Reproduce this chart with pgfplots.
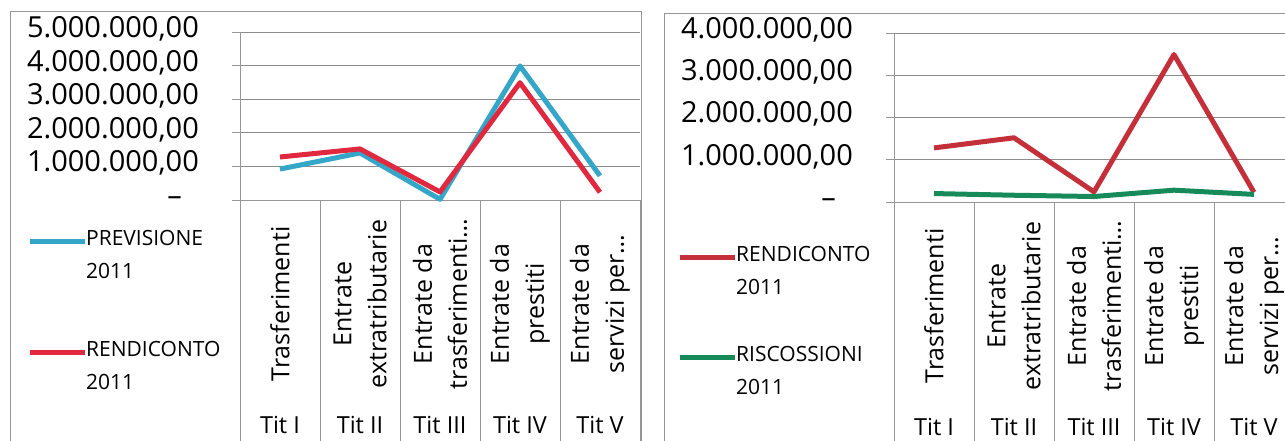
\documentclass[border=0pt]{standalone}
\usepackage{pgfplots}
\pgfplotsset{compat=1.18}
\usepackage{fontspec}
\setmainfont{Open Sans}

\definecolor{cblue}{RGB}{52,166,200}
\definecolor{credL}{RGB}{224,40,62}
\definecolor{credR}{RGB}{196,48,58}
\definecolor{cgreen}{RGB}{22,138,88}
\definecolor{gridgray}{RGB}{140,140,140}
\definecolor{framegray}{RGB}{150,150,150}

\newcommand{\ticklab}{\fontsize{29}{35}\selectfont}
\newcommand{\catlab}{\fontsize{23.5}{35}\selectfont}
\newcommand{\rotlab}{\fontsize{25}{35}\selectfont}
\newcommand{\leglab}{\fontsize{21}{33}\selectfont}

\pgfplotsset{
  panel/.style={
    scale only axis, width=400pt,
    xmin=-0.5, xmax=4.5, ymin=0,
    clip=false,
    scaled y ticks=false,
    axis x line*=bottom, axis y line*=left,
    axis line style={-, draw=framegray, line width=0.9pt},
    ymajorgrids, major grid style={draw=gridgray, line width=0.9pt},
    tick align=outside, major tick length=8pt,
    ytick style={draw=framegray, line width=0.9pt},
    xtick style={draw=none},
    xtick={0,1,2,3,4},
    xticklabels={Tit I, Tit II, Tit III, Tit IV, Tit V},
    xticklabel style={anchor=north, inner sep=0pt, yshift=-208pt, font=\catlab},
    extra x ticks={0,1,2,3,4},
    extra x tick labels={
      {Trasferimenti},
      {Entrate\\extratributarie},
      {Entrate da\\trasferimenti…},
      {Entrate da\\prestiti},
      {Entrate da\\servizi per…}},
    extra x tick style={
      tick style={draw=none},
      xticklabel style={rotate=90, anchor=center, align=center, xshift=112pt, font=\rotlab}},
    yticklabel style={anchor=base east, inner sep=0pt, xshift=-33pt, yshift=-5.4pt, font=\ticklab},
    legend image code/.code={
      \draw[##1, line width=5pt] (0pt,13.5pt) -- (55pt,13.5pt);},
    legend cell align=left,
    every axis plot/.append style={line width=5pt, line join=round, mark=none},
  }
}

\begin{document}
\begin{tikzpicture}
\path[use as bounding box] (0pt,0pt) rectangle (1285pt,440pt);

% outer chart frames
\draw[framegray, line width=0.9pt] (10pt,-10pt) -- (10pt,429pt) -- (641pt,429pt) -- (641pt,-10pt);
\draw[framegray, line width=0.9pt] (664pt,-10pt) -- (664pt,427pt) -- (1300pt,427pt);

% left panel: previsione vs rendiconto
\begin{axis}[panel,
  at={(240pt,240pt)}, anchor=south west,
  height=168pt, ymax=5000000,
  ytick={0,1000000,2000000,3000000,4000000,5000000},
  yticklabels={{–\kern17pt},{1.000.000,00},{2.000.000,00},{3.000.000,00},{4.000.000,00},{5.000.000,00}},
  legend style={draw=none, fill=none, at={(-0.5325,-0.1667)}, anchor=north west,
    font=\leglab, cells={anchor=west, align=left}, inner sep=0pt,
    row sep=57pt, column sep=-3pt},
]
\addplot[cblue] coordinates {(0,920000) (1,1400000) (2,20000) (3,3990000) (4,720000)};
\addlegendentry{PREVISIONE\\2011}
\addplot[credL] coordinates {(0,1280000) (1,1520000) (2,240000) (3,3490000) (4,230000)};
\addlegendentry{RENDICONTO\\2011}
\pgfplotsinvokeforeach{-0.5,0.5,1.5,2.5,3.5,4.5}{
  \draw[framegray, line width=0.9pt] (axis cs:#1,0) -- ++(0pt,-250pt);}
\end{axis}

% right panel: rendiconto vs riscossioni
\begin{axis}[panel,
  at={(894pt,238pt)}, anchor=south west,
  height=169pt, ymax=4000000,
  ytick={0,1000000,2000000,3000000,4000000},
  yticklabels={{–\kern17pt},{1.000.000,00},{2.000.000,00},{3.000.000,00},{4.000.000,00}},
  legend style={draw=none, fill=none, at={(-0.5425,-0.2485)}, anchor=north west,
    font=\leglab, cells={anchor=west, align=left}, inner sep=0pt,
    row sep=46pt, column sep=-3pt},
]
\addplot[credR] coordinates {(0,1280000) (1,1520000) (2,240000) (3,3490000) (4,230000)};
\addlegendentry{RENDICONTO\\2011}
\addplot[cgreen] coordinates {(0,200000) (1,160000) (2,130000) (3,280000) (4,180000)};
\addlegendentry{RISCOSSIONI\\2011}
\pgfplotsinvokeforeach{-0.5,0.5,1.5,2.5,3.5,4.5}{
  \draw[framegray, line width=0.9pt] (axis cs:#1,0) -- ++(0pt,-250pt);}
\end{axis}
\end{tikzpicture}
\end{document}
